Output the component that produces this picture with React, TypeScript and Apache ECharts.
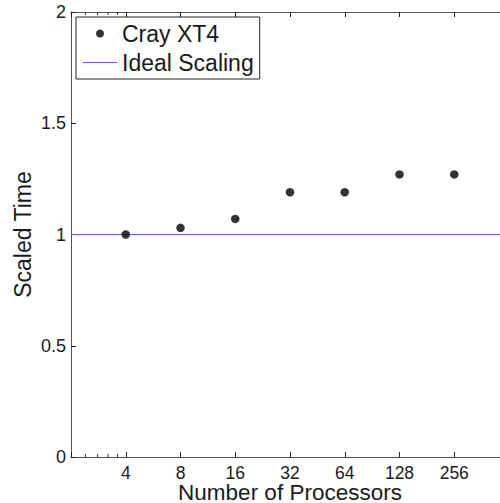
import React, { useEffect, useRef } from "react";
import * as echarts from "echarts";

const processors = [4, 8, 16, 32, 64, 128, 256];
const scaledTime = [1.0, 1.03, 1.07, 1.19, 1.19, 1.27, 1.27];
const idealX = [2, 512];
const idealY = [1, 1];
const minorTicks = [2.4, 2.8, 3.2, 3.6];
const yTicks = [0, 0.5, 1, 1.5, 2];

const FONT = "'Liberation Sans', Arial, Helvetica, sans-serif";
const BLUE = "#5a5aff";

export default function App() {
  const ref = useRef<HTMLDivElement>(null);
  useEffect(() => {
    if (!ref.current) return;
    const chart = echarts.init(ref.current, null, { renderer: "svg" });
    const axisLine = { show: true, onZero: false, lineStyle: { color: "#555", width: 1 } };
    const xBase = {
      type: "log" as const,
      logBase: 2,
      min: 2,
      max: 512,
      axisLine,
      axisTick: { show: true, inside: true, length: 5, lineStyle: { color: "#222" } },
      splitLine: { show: false },
      minorTick: { show: false },
    };
    chart.setOption({
      animation: false,
      textStyle: { fontFamily: FONT },
      grid: {
        left: 71,
        top: 12,
        width: 438,
        height: 445,
        containLabel: false,
        outerBoundsMode: "none",
      },
      legend: {
        left: 76,
        top: 17,
        orient: "vertical",
        data: [
          { name: "Cray XT4", icon: "circle" },
          { name: "Ideal Scaling", icon: "path://M0,0 H34 V1 H0 Z" },
        ],
        backgroundColor: "#fff",
        borderColor: "#222",
        borderWidth: 1,
        borderRadius: 0,
        padding: [5, 6, 5, 7],
        itemGap: 6,
        itemWidth: 34,
        itemHeight: 8,
        textStyle: { fontFamily: FONT, fontSize: 23, color: "#1a1a1a", lineHeight: 22 },
      },
      xAxis: [
        {
          ...xBase,
          position: "bottom",
          name: "Number of Processors",
          nameLocation: "middle",
          nameGap: 25,
          nameMoveOverlap: false,
          nameTextStyle: { fontFamily: FONT, fontSize: 22.5, lineHeight: 20, color: "#1a1a1a" },
          axisLabel: {
            show: true,
            margin: 7,
            fontFamily: FONT,
            fontSize: 17.5,
            lineHeight: 17,
            color: "#1a1a1a",
            formatter: (v: number) => (processors.includes(Math.round(v)) ? String(Math.round(v)) : ""),
          },
        },
        {
          ...xBase,
          position: "top",
          axisLabel: { show: false },
        },
      ],
      yAxis: {
        type: "value",
        min: 0,
        max: 2,
        interval: 0.5,
        name: "Scaled Time",
        nameLocation: "middle",
        nameGap: 37,
        nameMoveOverlap: false,
        nameTextStyle: { fontFamily: FONT, fontSize: 23, color: "#1a1a1a" },
        axisLine,
        axisTick: { show: true, inside: true, length: 5, lineStyle: { color: "#222" } },
        splitLine: { show: false },
        axisLabel: {
          margin: 5,
          fontFamily: FONT,
          fontSize: 18,
          color: "#1a1a1a",
          formatter: (v: number) => (yTicks.includes(v) ? String(v) : ""),
        },
      },
      series: [
        {
          name: "Ideal Scaling",
          type: "line",
          data: idealX.map((x, i) => [x, idealY[i]]),
          symbol: "none",
          showSymbol: false,
          lineStyle: { color: BLUE, width: 1 },
          itemStyle: { color: BLUE },
          z: 2,
        },
        {
          name: "Cray XT4",
          type: "scatter",
          data: processors.map((p, i) => [p, scaledTime[i]]),
          symbol: "circle",
          symbolSize: 8.5,
          itemStyle: { color: "#000" },
          z: 3,
        },
        {
          name: "minor",
          type: "custom",
          silent: true,
          data: minorTicks.map((v) => [v, 0]),
          renderItem: (params: any, api: any) => {
            const v = api.value(0);
            const b = api.coord([v, 0]);
            const t = api.coord([v, 2]);
            return {
              type: "group",
              children: [
                {
                  type: "line",
                  shape: { x1: b[0], y1: b[1], x2: b[0], y2: b[1] - 3 },
                  style: { stroke: "#333", lineWidth: 1 },
                },
                {
                  type: "line",
                  shape: { x1: t[0], y1: t[1], x2: t[0], y2: t[1] + 3 },
                  style: { stroke: "#333", lineWidth: 1 },
                },
              ],
            };
          },
          z: 4,
        },
      ],
    });
    return () => chart.dispose();
  }, []);
  return (
    <div
      ref={ref}
      style={{ position: "fixed", left: 0, top: 0, width: 500, height: 503, background: "#fff" }}
    />
  );
}
